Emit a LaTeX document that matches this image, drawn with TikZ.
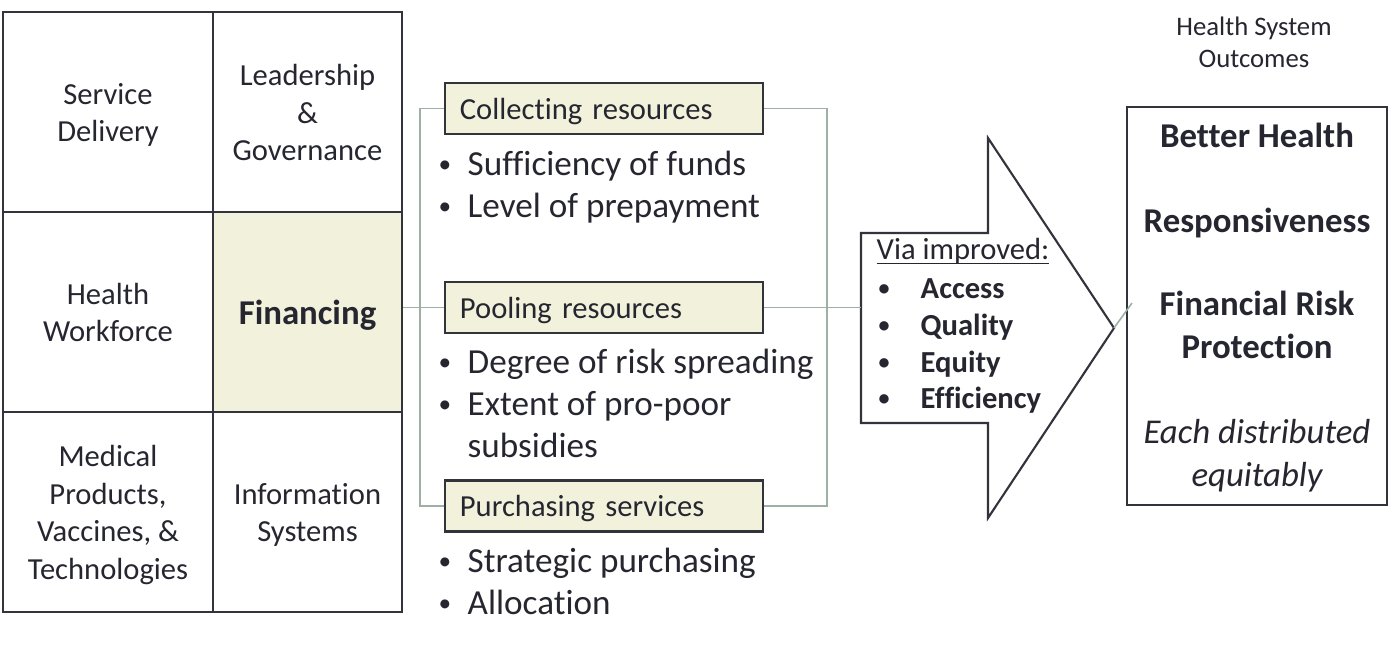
\documentclass[tikz,border=0pt]{standalone}
\usepackage{graphicx}
\usepackage{fontspec}
\setmainfont{Carlito}[Ligatures=NoCommon]
\usetikzlibrary{positioning}

\definecolor{ink}{HTML}{262630}
\definecolor{edge}{HTML}{33333B}
\definecolor{beige}{HTML}{F2F2DC}
\definecolor{linkgray}{HTML}{9DB0A3}

\newcommand{\gridfont}{\fontsize{8.7pt}{10.67pt}\selectfont}
\newcommand{\itemfont}{\fontsize{10pt}{12pt}\selectfont}
\newcommand{\viafont}{\fontsize{8.7pt}{10.5pt}\selectfont}
\newcommand{\outfont}{\fontsize{9.9pt}{12pt}\selectfont}
\newcommand{\smalldot}{\raisebox{0.08em}{\scalebox{0.72}{\textbullet}}}
\newcommand{\dotitem}[1]{\llap{\makebox[0.27cm][l]{\hspace{-0.02cm}\smalldot}}#1}
\newcommand{\viaitem}[1]{\llap{\makebox[0.4cm][l]{\hspace{-0.02cm}\smalldot}}#1}
\newcommand{\viaul}[1]{\setbox0\hbox{#1}\rlap{\rule[-1.4pt]{\wd0}{0.4pt}}#1}
\newcommand{\cellstrut}{\rule[-0.2em]{0pt}{0.85em}}

\begin{document}
\begin{tikzpicture}[x=0.01cm, y=-0.01cm,
		cell/.style={draw=edge, line width=0.6pt, inner sep=0pt, minimum height=2cm},
		celltext/.style={inner sep=0pt, align=center, text=ink, font=\gridfont, yshift=-0.035cm,
			execute at begin node=\cellstrut, execute at end node=\cellstrut},
		stage/.style={draw=edge, line width=0.6pt, fill=beige, inner sep=0pt, minimum width=3.18cm, minimum height=0.51cm},
		stagetext/.style={inner sep=0pt, text width=2.88cm, align=left, text=ink, font=\gridfont, yshift=-0.03cm,
			execute at begin node=\cellstrut},
		bullet/.style={anchor=base west, inner sep=0pt, text=ink, font=\itemfont},
		via/.style={anchor=base west, inner sep=0pt, text=ink, font=\viafont},
		outcome/.style={anchor=base, inner sep=0pt, text=ink, font=\outfont\bfseries},
		link/.style={draw=linkgray, line width=0.45pt}]
		\useasboundingbox (0,0) rectangle (1400,645);

		% building blocks
		\node [cell, minimum width=2.1cm, label={[celltext]center:Service\\Delivery}] (service) at (108,112) {};
		\node [cell, minimum width=1.89cm, label={[celltext]center:Leadership\\\&\\Governance}] (lead) at (307.5,112) {};
		\node [cell, minimum width=2.1cm, label={[celltext]center:Health\\Workforce}] (work) at (108,312) {};
		\node [cell, minimum width=1.89cm, fill=beige, label={[celltext, font=\fontsize{9.9pt}{12pt}\selectfont\bfseries]center:Financing}] (fin) at (307.5,312) {};
		\node [cell, minimum width=2.1cm, label={[celltext]center:Medical\\Products,\\Vaccines, \&\\Technologies}] (medic) at (108,512) {};
		\node [cell, minimum width=1.89cm, label={[celltext]center:Information\\Systems}] (info) at (307.5,512) {};

		% financing functions
		\node [stage, label={[stagetext]center:Collecting resources}] (collect) at (604,108.5) {};
		\node [stage, label={[stagetext]center:Pooling resources}] (pool) at (604,307.5) {};
		\node [stage, label={[stagetext]center:Purchasing services}] (purch) at (604,506) {};

		\node [bullet] (suff) at (467,175) {\dotitem{Sufficiency of funds}};
		\node [bullet] (prepay) at (467,217) {\dotitem{Level of prepayment}};
		\node [bullet] (spread) at (467,373) {\dotitem{Degree of risk spreading}};
		\node [bullet] (propoor) at (467,415) {\dotitem{Extent of pro-poor}};
		\node [bullet] (subsid) at (467,457) {subsidies};
		\node [bullet] (strat) at (467,572) {\dotitem{Strategic purchasing}};
		\node [bullet] (alloc) at (467,614) {\dotitem{Allocation}};

		\draw [link] (pool.west -| fin.east) -- (pool.west);
		\draw [link] (collect.west) -- ++(-24,0) |- (purch.west);
		\draw [link] (collect.east) -- ++(63,0) |- (purch.east);

		% big arrow
		\coordinate (arrL) at (861,328);
		\coordinate (tip) at (1114,328);
		\coordinate (tipend) at (1132,303);
		\draw [draw=edge, line width=0.6pt, fill=white] (861,233) -- (988,233) -- (988,138) -- (tip) -- (988,518) -- (988,423) -- (861,423) -- cycle;
		\draw [link] (pool.east) -- (pool.east -| arrL);

		\node [via] (viahead) at (876,259) {\viaul{Via improved:}};
		\node [via, font=\viafont\bfseries] (access) at (920,298) {\viaitem{Access}};
		\node [via, font=\viafont\bfseries] (quality) at (920,335) {\viaitem{Quality}};
		\node [via, font=\viafont\bfseries] (equity) at (920,372) {\viaitem{Equity}};
		\node [via, font=\viafont\bfseries] (effic) at (920,408) {\viaitem{Efficiency}};

		% outcomes
		\node [text=ink, align=center, inner sep=0pt, font=\fontsize{7.6pt}{9.1pt}\selectfont] (title) at (1254,42) {Health System\\Outcomes};
		\node [draw=edge, line width=0.6pt, minimum width=2.6cm, minimum height=3.98cm, inner sep=0pt] (outc) at (1257,306) {};
		\node [outcome] (better) at (1257,147) {Better Health};
		\node [outcome] (resp) at (1257,232) {Responsiveness};
		\node [outcome] (finrisk) at (1257,315) {Financial Risk};
		\node [outcome] (protect) at (1257,358) {Protection};
		\node [outcome, font=\outfont\itshape] (each) at (1257,443) {Each distributed};
		\node [outcome, font=\outfont\itshape] (equit) at (1257,486) {equitably};
		\draw [link] (tip) -- (tipend);
	\end{tikzpicture}
\end{document}
